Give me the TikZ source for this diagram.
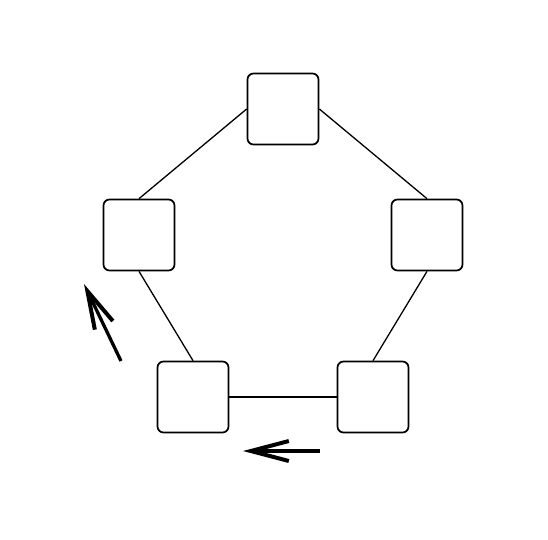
\documentclass[tikz,border=0pt]{standalone}
\usepackage{tikz}
\usetikzlibrary{arrows.meta}

\begin{document}
\begin{tikzpicture}[x=1pt,y=-1pt,
  cell/.style={rectangle,draw,line width=1.7pt,rounded corners=6pt,minimum size=71pt,inner sep=0pt,fill=white},
  link/.style={line width=1.3pt},
  turn/.style={line width=3.3pt,-{Straight Barb[length=38pt,width=20pt,line width=4pt]}}]
\useasboundingbox (0,0) rectangle (548,539);
\node [cell] (t) at (283,109) {};
\node [cell] (l) at (139,235) {};
\node [cell] (r) at (427,235) {};
\node [cell] (bl) at (193,397) {};
\node [cell] (br) at (373,397) {};
\draw [link] (l.north) -- (t.west);
\draw [link] (t.east) -- (r.north);
\draw [link] (l.south) -- (bl.north);
\draw [link] (r.south) -- (br.north);
\draw [link] (bl.east) -- (br.west);
% direction of travel
\coordinate (a1) at (121,361);
\coordinate (a2) at (84,284);
\coordinate (b1) at (320,451);
\coordinate (b2) at (243,451);
\draw [turn] (a1) -- (a2);
\draw [turn] (b1) -- (b2);
\end{tikzpicture}
\end{document}
